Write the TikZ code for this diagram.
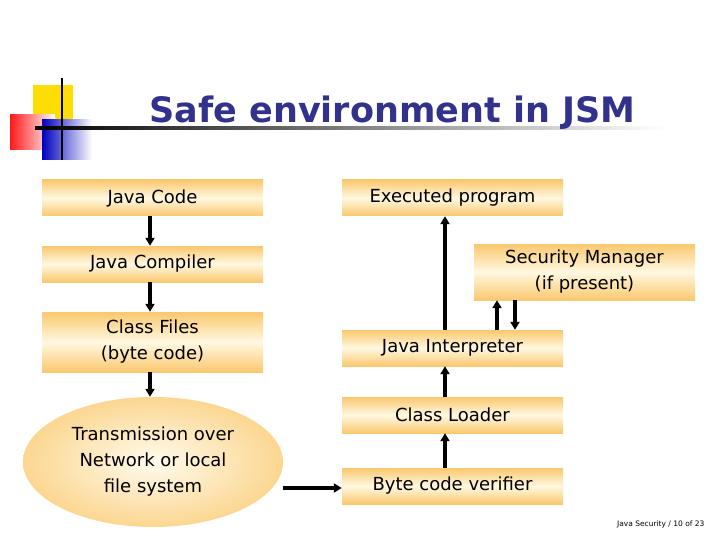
\documentclass[tikz,border=0pt]{standalone}
\usepackage{fontspec}
\setmainfont{DejaVu Sans}
\usetikzlibrary{arrows.meta,shapes.geometric}
\definecolor{org}{RGB}{250,200,110}
\definecolor{pale}{RGB}{255,248,225}
\definecolor{ttl}{RGB}{50,50,140}
\tikzset{
 box/.style={rectangle,minimum width=221pt,inner sep=0pt,top color=org,bottom color=org,middle color=pale,font=\fontsize{18}{26}\selectfont,align=center},
 arr/.style={line width=3.5pt,-{Triangle[length=8pt,width=9pt]}}
}
\begin{document}
\begin{tikzpicture}[x=1pt,y=-1pt]
\useasboundingbox (0,0) rectangle (720,540);
% logo
\fill[yellow!80!orange] (33,85) rectangle (73,125);
\shade[left color=red!90, right color=white] (10,115) rectangle (55,150);
\shade[left color=blue!75!black, right color=white] (42,120) rectangle (92,160);
\draw[line width=1.5pt] (62,78) -- (62,160);
\shade[left color=black, right color=white] (35,127) rectangle (665,130);
\node[font=\fontsize{35}{38}\selectfont\bfseries,text=ttl,anchor=west] (title) at (146,113) {Safe environment in JSM};
% left column
\node[box,minimum height=36pt] (jc) at (152.5,198) {Java Code};
\node[box,minimum height=36pt] (comp) at (152.5,264) {Java Compiler};
\node[box,minimum height=60pt] (cf) at (152.5,342) {Class Files\\(byte code)};
\node[ellipse,minimum width=260pt,minimum height=130pt,inner sep=0pt,inner color=pale!60!white,outer color=org!70!pale,font=\fontsize{18}{26}\selectfont,align=center] (tr) at (153,462) {Transmission over\\Network or local\\file system};
% right column
\node[box,minimum height=36pt] (ex) at (452.5,198) {Executed program};
\node[box,minimum height=56pt] (sm) at (584.5,272) {Security Manager\\(if present)};
\node[box,minimum height=36pt] (ji) at (452.5,348) {Java Interpreter};
\node[box,minimum height=36pt] (cl) at (452.5,415) {Class Loader};
\node[box,minimum height=36pt] (bv) at (452.5,486) {Byte code verifier};
% arrows
\draw[arr] (jc.south -| 150,0) -- (comp.north -| 150,0);
\draw[arr] (comp.south -| 150,0) -- (cf.north -| 150,0);
\draw[arr] (cf.south -| 150,0) -- (tr.north -| 150,0);
\draw[arr] (tr.east |- 0,488) -- (bv.west |- 0,488);
\draw[arr] (bv.north -| 445,0) -- (cl.south -| 445,0);
\draw[arr] (cl.north -| 445,0) -- (ji.south -| 445,0);
\draw[arr] (ji.north -| 445,0) -- (ex.south -| 445,0);
\draw[arr] (ji.north -| 497,0) -- (sm.south -| 497,0);
\draw[arr] (sm.south -| 515,0) -- (ji.north -| 515,0);
\node[font=\fontsize{7.5}{8}\selectfont,anchor=east] (foot) at (708,524) {Java Security / 10 of 23};
\end{tikzpicture}
\end{document}
